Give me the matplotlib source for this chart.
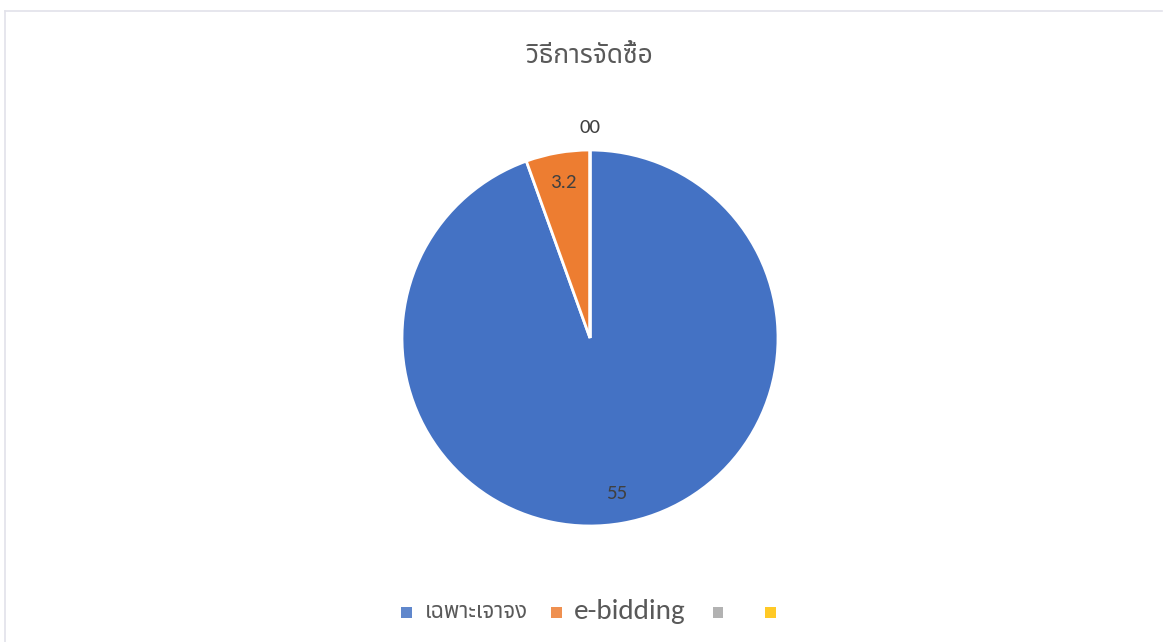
import matplotlib
matplotlib.use('Agg')
import matplotlib.pyplot as plt
from matplotlib.patches import Rectangle
import numpy as np

# data
categories = ['เฉพาะเจาจง', 'e-bidding', '', '']
values = [55, 3.2, 0, 0]
value_labels = ['55', '3.2', '0', '0']
colors = ['#4472C4', '#ED7D31', '#A5A5A5', '#FFC000']
title = 'วิธีการจัดซื้อ'

THAI = ['Noto Sans Thai', 'Sarabun', 'DejaVu Sans']
NUM = ['Carlito', 'Open Sans', 'DejaVu Sans']
plt.rcParams['font.family'] = THAI

W, H = 1167, 642
fig = plt.figure(figsize=(W / 100, H / 100), dpi=100)
fig.patch.set_facecolor('white')

# faint chart-area border (top and left edges visible in the scan)
fig.add_artist(plt.Line2D([5 / W, 1162 / W], [1 - 11 / H] * 2, color='#e2e2ea', lw=1.2))
fig.add_artist(plt.Line2D([5 / W] * 2, [1 - 11 / H, 0], color='#e2e2ea', lw=1.2))

cx, cy, R = 590, 338, 188
ax = fig.add_axes([(cx - R) / W, (H - cy - R) / H, 2 * R / W, 2 * R / H])

wedges, _ = ax.pie(values, colors=colors, startangle=90, counterclock=False,
                   radius=1, wedgeprops=dict(edgecolor='white', linewidth=2))
ax.set_xlim(-1, 1); ax.set_ylim(-1, 1)
ax.set_aspect('equal'); ax.axis('off')

# data labels: inside for non-zero slices
for w, lab, v in zip(wedges, value_labels, values):
    mid = np.deg2rad((w.theta1 + w.theta2) / 2)
    if v > 0:
        r = 0.84
        x, y = r * np.cos(mid), r * np.sin(mid)
        ax.text(x, y, lab, ha='center', va='center', fontsize=15,
                color='#404040', family=NUM)
# zero slices share the top position -> "00"
zero_labels = ''.join(l for l, v in zip(value_labels, values) if v == 0)
ax.text(0, 1.12, zero_labels, ha='center', va='center', fontsize=15,
        color='#404040', family=NUM)

fig.text(590 / W, 1 - 56 / H, title, ha='center', va='center',
         fontsize=19, color='#595959')

# legend: marker + label, e-bidding rendered larger as in the source
leg_y = 1 - 612 / H
sq = 11
entries = [(406, 425, 16, THAI), (556, 574, 21, NUM), (718, None, 11, THAI), (770, None, 11, THAI)]
for (mx, tx, fs, fam), col, cat in zip(entries, colors, categories):
    fig.add_artist(Rectangle(((mx - sq / 2) / W, leg_y - sq / 2 / H), sq / W, sq / H,
                             transform=fig.transFigure, facecolor=col,
                             edgecolor='none', alpha=0.85))
    if cat:
        fig.text(tx / W, leg_y, cat, ha='left', va='center', fontsize=fs,
                 color='#595959', family=fam)

fig.savefig('out.png', dpi=100, facecolor='white')
